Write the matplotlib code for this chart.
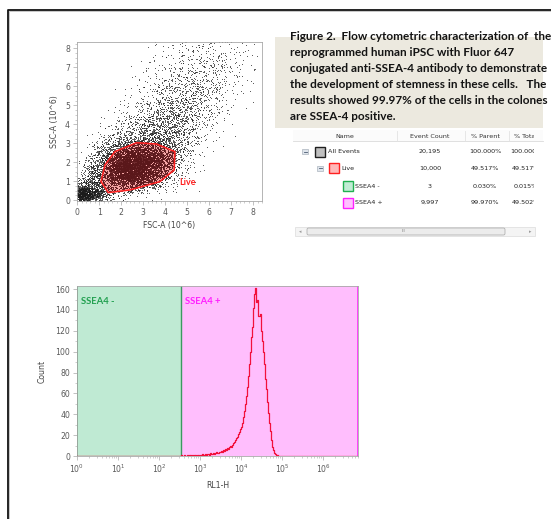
import numpy as np
import matplotlib
matplotlib.use('Agg')
import matplotlib.pyplot as plt
from matplotlib.path import Path
from matplotlib.patches import Polygon, Rectangle, FancyBboxPatch
from matplotlib.transforms import Bbox, TransformedBbox
from matplotlib.ticker import MultipleLocator, LogLocator, NullFormatter

# ---------------- data ----------------
# Scatter: plotted dots per 0.5 x 0.5 cell (FSC-A columns 0..8.5, SSC-A rows 0..8.5)
cell_size = 0.5
density_rows = [
    [600, 320, 90, 25, 10, 5, 3, 2, 1, 0, 0, 0, 0, 0, 0, 0, 0],
    [100, 150, 70, 100, 140, 115, 75, 35, 10, 3, 1, 0, 0, 0, 0, 0, 0],
    [25, 120, 115, 260, 360, 320, 220, 120, 40, 10, 2, 0, 0, 0, 0, 0, 0],
    [6, 80, 115, 310, 420, 400, 300, 180, 70, 18, 4, 1, 0, 0, 0, 0, 0],
    [1, 35, 90, 190, 300, 320, 280, 190, 100, 33, 8, 2, 1, 0, 0, 0, 0],
    [0, 12, 50, 100, 140, 155, 155, 130, 90, 45, 13, 4, 1, 0, 0, 0, 0],
    [0, 4, 18, 40, 57, 67, 77, 80, 67, 43, 18, 7, 2, 1, 0, 0, 0],
    [0, 1, 6, 15, 28, 42, 55, 65, 62, 47, 25, 10, 3, 1, 0, 0, 0],
    [0, 0, 2, 6, 15, 27, 40, 52, 55, 50, 36, 18, 6, 2, 1, 0, 0],
    [0, 0, 1, 3, 7, 15, 26, 37, 45, 46, 38, 24, 11, 4, 1, 0, 0],
    [0, 0, 0, 1, 3, 8, 15, 25, 35, 40, 37, 28, 16, 6, 3, 1, 0],
    [0, 0, 0, 1, 2, 4, 9, 16, 24, 30, 31, 26, 17, 8, 3, 1, 0],
    [0, 0, 0, 0, 1, 2, 5, 10, 17, 22, 25, 23, 17, 10, 5, 2, 1],
    [0, 0, 0, 0, 1, 1, 4, 7, 11, 15, 18, 19, 17, 11, 6, 3, 1],
    [0, 0, 0, 0, 0, 1, 3, 5, 8, 11, 14, 15, 14, 11, 6, 3, 1],
    [0, 0, 0, 0, 0, 0, 2, 3, 5, 8, 10, 11, 11, 8, 5, 3, 1],
    [0, 0, 0, 0, 0, 0, 1, 2, 3, 5, 6, 7, 7, 6, 3, 2, 1],
]

# "Live" gate polygon (FSC-A, SSC-A in 10^6)
gate_x = [1.08, 1.26, 1.71, 2.70, 3.61, 4.44, 4.41, 3.76, 2.40, 1.41]
gate_y = [0.98, 1.86, 2.56, 3.03, 2.96, 2.56, 1.59, 0.98, 0.54, 0.40]

# Histogram of RL1-H: counts in bins of 0.025 decades starting at 10^2.5
hist_log_start = 2.5
hist_log_step = 0.025
hist_counts = [
    0, 1, 0, 0, 1, 0, 0, 1, 0, 1, 1, 0, 1, 0, 1, 1, 0, 1, 1, 0,
    1, 1, 2, 1, 1, 2, 1, 2, 2, 1, 3, 2, 2, 3, 2, 3, 4, 3, 4, 4,
    5, 4, 6, 5, 7, 6, 8, 7, 9, 10, 9, 11, 12, 13, 15, 17, 18, 21, 23, 26,
    28, 32, 37, 43, 50, 58, 66, 77, 88, 100, 114, 124, 142, 155, 161, 148, 150, 134, 136, 120,
    110, 100, 88, 74, 64, 52, 41, 32, 24, 15, 9, 6, 3, 2, 1, 1, 0, 0, 0, 0,
]
hist_xmax = 7.1e6
gate_split = 345.0

# Table
col_headers = ["Name", "Event Count", "% Parent", "% Total"]
pop_names = ["All Events", "Live", "SSEA4 -", "SSEA4 +"]
pop_counts = ["20,195", "10,000", "3", "9,997"]
pop_parent = ["100.000%", "49.517%", "0.030%", "99.970%"]
pop_total = ["100.000%", "49.517%", "0.015%", "49.502%"]
pop_edge = ["#202020", "#ff2020", "#20b050", "#ff20ff"]
pop_fill = ["#c0c0c0", "#ffb8b8", "#c0ecd4", "#ffc0ff"]

caption_lines = [
    "Figure 2.  Flow cytometric characterization of  the",
    "reprogrammed human iPSC with Fluor 647",
    "conjugated anti-SSEA-4 antibody to demonstrate",
    "the development of stemness in these cells.   The",
    "results showed 99.97% of the cells in the colones",
    "are SSEA-4 positive.",
]

# ---------------- figure ----------------
W, H = 551, 519
DPI = 100
fig = plt.figure(figsize=(W / DPI, H / DPI), dpi=DPI)
fig.patch.set_facecolor('white')


def rect(l, t, r, b):
    return [l / W, 1 - b / H, (r - l) / W, (b - t) / H]


TICKC = '#5a5a5a'
SPINEC = '#a8a8a8'
TFS = 5.6

# overlay for frame, caption, table
ov = fig.add_axes([0, 0, 1, 1], zorder=0)
ov.set_xlim(0, W)
ov.set_ylim(H, 0)
ov.axis('off')
ov.plot([7.5, 7.5, W + 2], [H + 2, 9.5, 9.5], color='#111111', lw=1.3, solid_capstyle='butt')
ov.plot([9, 9, W + 2], [H + 2, 11, 11], color='#b0b0b0', lw=0.5)

# caption box
ov.add_patch(Rectangle((275, 37), 268, 91, facecolor='#ece9df', edgecolor='none'))
renderer = fig.canvas.get_renderer()
probe = ov.text(0, 0, caption_lines[2], fontsize=10, fontweight='bold', family='Lato')
wpx = probe.get_window_extent(renderer).width
probe.remove()
cap_fs = 10 * 257.0 / wpx
for i, line in enumerate(caption_lines):
    ov.text(290.5, 39.5 + 16.2 * i, line, fontsize=cap_fs, fontweight='bold', family='Lato',
            color='#141414', va='baseline', ha='left')

# table header
ov.add_patch(Rectangle((293, 130), 250, 11, facecolor='#fbfbfb', edgecolor='none'))
ov.plot([293, 543], [141, 141], color='#dadada', lw=0.6)
for sx in [397, 465, 509]:
    ov.plot([sx, sx], [130.5, 140.5], color='#e2e2e2', lw=0.6)
TFONT = 4.6
col_cx = [345, 430, 485, 526]
col_clip = [None, None, (465, 502), (509, 534)]


def clipped_text(x, y, s, clip, **kw):
    t = ov.text(x, y, s, **kw)
    if clip is not None:
        bb = TransformedBbox(Bbox([[clip[0], 0], [clip[1], H]]), ov.transData)
        t.set_clip_box(bb)
        t.set_clip_on(True)
    return t


for j, h in enumerate(col_headers):
    clipped_text(col_cx[j], 136, h, col_clip[j], fontsize=TFONT, ha='center', va='center',
                 color='#333333', family='DejaVu Sans')

row_y = [151.7, 168.3, 186.0, 202.7]
box_x = [315, 328.5, 342.5, 342.5]
minus_x = [305, 320, None, None]
for i in range(4):
    y = row_y[i]
    if minus_x[i] is not None:
        mx = minus_x[i]
        ov.add_patch(Rectangle((mx - 2.6, y - 2.6), 5.2, 5.2, facecolor='#dfe5ec', edgecolor='#9aa4b0', lw=0.4))
        ov.plot([mx - 1.5, mx + 1.5], [y, y], color='#4a5a70', lw=0.6)
    ov.add_patch(Rectangle((box_x[i], y - 5), 10, 10, facecolor=pop_fill[i], edgecolor=pop_edge[i], lw=1.0))
    ov.text(box_x[i] + 12.5, y, pop_names[i], fontsize=TFONT, ha='left', va='center',
            color='#222222', family='DejaVu Sans')
    clipped_text(col_cx[1], y, pop_counts[i], None, fontsize=TFONT, ha='center', va='center',
                 color='#222222', family='DejaVu Sans')
    clipped_text(col_cx[2], y, pop_parent[i], col_clip[2], fontsize=TFONT, ha='center', va='center',
                 color='#222222', family='DejaVu Sans')
    clipped_text(col_cx[3], y, pop_total[i], col_clip[3], fontsize=TFONT, ha='center', va='center',
                 color='#222222', family='DejaVu Sans')

# scrollbar
ov.add_patch(Rectangle((295, 227), 240, 9, facecolor='#f4f4f4', edgecolor='#dcdcdc', lw=0.5))
ov.add_patch(FancyBboxPatch((307, 228), 198, 7, boxstyle='round,pad=0,rounding_size=1.5',
                            facecolor='#ececec', edgecolor='#a6a6a6', lw=0.5))
ov.text(403, 231.5, 'III', fontsize=3.2, ha='center', va='center', color='#777777')
ov.text(300, 231.5, '\u25c2', fontsize=3.5, ha='center', va='center', color='#999999')
ov.text(530, 231.5, '\u25b8', fontsize=3.5, ha='center', va='center', color='#999999')

# ---------------- scatter ----------------
ax1 = fig.add_axes(rect(77, 42, 262, 201), zorder=2)
ax1.set_xlim(-0.01, 8.4)
ax1.set_ylim(-0.04, 8.33)


def hash01(k, salt):
    # deterministic sub-cell spread of the dots inside each density cell
    return np.modf(np.abs(np.sin(k * 12.9898 + salt * 78.233)) * 43758.5453)[0]


xs, ys = [], []
k0 = 0
for r, row in enumerate(density_rows):
    for c, n in enumerate(row):
        if n <= 0:
            continue
        k = np.arange(k0, k0 + n, dtype=float) + 1.0
        k0 += n
        du = hash01(k, 1) + hash01(k, 2) - 1.0
        dv = hash01(k, 3) + hash01(k, 4) - 1.0
        xs.append((c + 0.5 + du) * cell_size)
        ys.append((r + 0.5 + dv) * cell_size)
xs = np.concatenate(xs)
ys = np.concatenate(ys)
gate_path = Path(np.column_stack([gate_x, gate_y]))
inside = gate_path.contains_points(np.column_stack([xs, ys]))

ax1.add_patch(Polygon(np.column_stack([gate_x, gate_y]), closed=True, facecolor='#f6a6a6',
                      edgecolor='none', zorder=1))
ax1.plot(xs[~inside], ys[~inside], ',', color='#1a1a1a', alpha=0.7, zorder=2)
ax1.plot(xs[inside], ys[inside], ',', color='#5a171a', alpha=0.85, zorder=2)
ax1.add_patch(Polygon(np.column_stack([gate_x, gate_y]), closed=True, facecolor='none',
                      edgecolor='#ff2020', lw=1.1, zorder=3))
ax1.text(4.62, 0.93, 'Live', color='#ff2020', fontsize=6.5, fontweight='bold', family='Lato',
         ha='left', va='center', zorder=4)

ax1.xaxis.set_major_locator(MultipleLocator(1))
ax1.yaxis.set_major_locator(MultipleLocator(1))
ax1.xaxis.set_minor_locator(MultipleLocator(0.2))
ax1.yaxis.set_minor_locator(MultipleLocator(0.25))
for sp in ax1.spines.values():
    sp.set_color(SPINEC)
    sp.set_linewidth(0.6)
ax1.tick_params(which='major', length=3, width=0.5, color=SPINEC, labelcolor=TICKC, labelsize=TFS, pad=2)
ax1.tick_params(which='minor', length=1.5, width=0.4, color=SPINEC)
ax1.set_xlabel('FSC-A (10^6)', fontsize=TFS, color='#444444', labelpad=3)
ax1.set_ylabel('SSC-A (10^6)', fontsize=TFS, color='#444444', labelpad=4)

# ---------------- histogram ----------------
ax2 = fig.add_axes(rect(77, 286, 358, 456), zorder=2)
ax2.set_xscale('log')
ax2.set_xlim(1, hist_xmax)
ax2.set_ylim(0, 163)
ax2.axvspan(1, gate_split, facecolor='#bfead3', edgecolor='none', zorder=1)
ax2.axvspan(gate_split, hist_xmax, facecolor='#ffbefd', edgecolor='none', zorder=1)
ax2.axvline(hist_xmax, color='#ff2dff', lw=1.2, zorder=2)
ax2.axvline(1, color='#2f9e5c', lw=1.2, zorder=2)
ax2.axvline(gate_split, color='#3a9a60', lw=1.0, zorder=2)

centers = 10 ** (hist_log_start + hist_log_step * (np.arange(len(hist_counts)) + 0.5))
hx = np.concatenate([[1.0], centers, [hist_xmax]])
hy = np.concatenate([[0], hist_counts, [0]])
ax2.step(hx, hy, where='mid', color='#f2103c', lw=0.9, zorder=3)
ax2.plot([1, gate_split], [0.3, 0.3], color='#a03020', lw=0.8, zorder=3)

ax2.text(1.25, 148, 'SSEA4 -', color='#22a050', fontsize=6.8, fontweight='bold', family='Lato',
         ha='left', va='center', zorder=4)
ax2.text(gate_split * 1.25, 148, 'SSEA4 +', color='#ff20ff', fontsize=6.8, fontweight='bold', family='Lato',
         ha='left', va='center', zorder=4)

ax2.yaxis.set_major_locator(MultipleLocator(20))
ax2.yaxis.set_minor_locator(MultipleLocator(10))
ax2.xaxis.set_major_locator(LogLocator(base=10, numticks=12))
ax2.xaxis.set_minor_locator(LogLocator(base=10, subs=np.arange(2, 10), numticks=12))
ax2.xaxis.set_minor_formatter(NullFormatter())
for sp in ax2.spines.values():
    sp.set_color(SPINEC)
    sp.set_linewidth(0.6)
ax2.tick_params(which='major', length=3, width=0.5, color=SPINEC, labelcolor=TICKC, labelsize=TFS, pad=2)
ax2.tick_params(which='minor', length=1.5, width=0.4, color=SPINEC)
ax2.set_xlabel('RL1-H', fontsize=TFS, color='#444444', labelpad=4)
ax2.set_ylabel('Count', fontsize=TFS, color='#444444', labelpad=6)

fig.savefig('out.png', dpi=DPI)
